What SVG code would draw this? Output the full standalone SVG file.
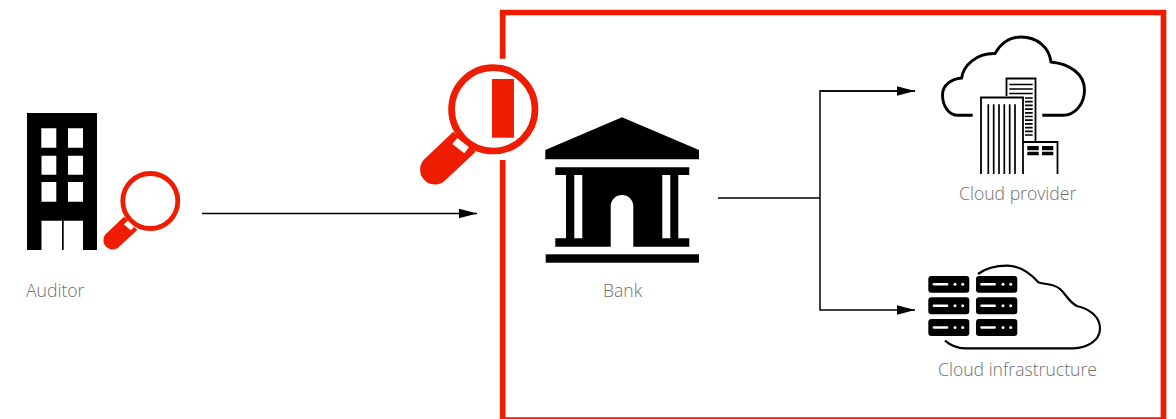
<svg xmlns="http://www.w3.org/2000/svg" width="1176" height="419" viewBox="0 0 1176 419">
<style>
.lbl{font-family:"Open Sans","Noto Sans",sans-serif;font-size:17.6px;font-weight:300;fill:#6e6e6e;opacity:.99}
.red{fill:#ee1c00}
.conn{fill:none;stroke:#000;stroke-width:1.5}
.thin{fill:none;stroke:#000;stroke-width:1.7}
.cloud{fill:none;stroke:#000;stroke-width:2.9}
</style>
<defs>
<marker id="arrow" markerUnits="userSpaceOnUse" markerWidth="20" markerHeight="10" refX="18" refY="5" orient="auto"><path d="M0 0.200L18 5L0 9.800Z" fill="#000"/></marker>
</defs>
<g id="frame"><path d="M502.700 58.700V12.500H1163.500V420H502.700V160" fill="none" stroke="#ee1c00" stroke-width="5.700"/></g>
<g id="connectors">
<path class="conn" d="M202 213.500H477" marker-end="url(#arrow)"/>
<path class="conn" d="M718 198H820"/>
<path class="conn" d="M915 91H820V310H915" marker-end="url(#arrow)"/>
<path class="conn" d="M820 91H915" marker-end="url(#arrow)"/>
</g>
<g id="auditor">
<path fill-rule="evenodd" d="M27 113H97V250H83V220.700H63.700V250H62V220.700H41.500V250H27ZM41.300 128.300V147.700H56.300V128.300ZM68 128.300V147.700H83V128.300ZM41.500 155.700V174.700H56.300V155.700ZM68 155.700V174.700H83V155.700ZM41.500 182V201.700H56.300V182ZM68 182V201.700H83V182Z"/>
<g id="auditor-lens">
<circle cx="150.300" cy="201" r="27.500" fill="#fff" stroke="#ee1c00" stroke-width="4.800"/>
<path class="red" d="M124 216.700L137.300 230L118 247.800A9.300 9.300 0 0 1 105.300 234.500Z"/>
<path fill="#fff" d="M128 220.700L134.300 226.700L130.700 230.300L123.700 224.300Z"/>
</g>
<text class="lbl" x="26" y="296.700">Auditor</text>
</g>
<g id="bank-lens">
<circle cx="493.300" cy="109.300" r="41.700" fill="#fff" stroke="#ee1c00" stroke-width="6.700"/>
<rect class="red" x="492" y="79" width="22" height="58.700"/>
<path class="red" d="M453.300 131.700L475.700 151.700L445 180.500A14.700 14.700 0 0 1 424.800 158.800Z"/>
<path fill="#fff" d="M457.300 138L469 147.300L464.300 153.300L452.300 144Z"/>
</g>
<g id="bank">
<path d="M545.300 150L622 117.300L699 150V159.300H545.300Z"/>
<path fill-rule="evenodd" d="M555.300 167.300H689.300V175H678.300V238.300H689.300V246.700H633.300V206.300A11.300 11.300 0 0 0 610.700 206.300V246.700H555.300V238.300H566V175H555.300ZM574.300 175V238.300H582.300V175ZM662.300 175V238.300H670.300V175Z"/>
<rect x="545.700" y="254.300" width="153.300" height="8.400"/>
<text class="lbl" x="603" y="296.700">Bank</text>
</g>
<g id="cloud-provider">
<path class="cloud" d="M972.700 115.300H958C949 115.300 942.500 106 942.500 95C942.500 85 951 79 961.700 78C963 66 976 53 995 53.500C1001 43 1010 37 1021 37C1037 37 1049 47 1051 62C1070 64 1084.500 74 1084.500 90C1084.500 104 1075 115.300 1063 115.300H1042.300"/>
<path fill="#fff" stroke="#000" stroke-width="1.800" d="M1006.500 96V78.500H1035.500V142"/>
<path fill="#fff" stroke="#000" stroke-width="1.800" d="M981 174V97.500H1023V174"/>
<path fill="none" stroke="#000" stroke-width="1.800" d="M1023 142H1057.500V174"/>
<path class="thin" stroke-width="1.500" d="M988.300 104.300V174M993.700 104.300V174M999 104.300V174M1004.300 104.300V174M1009.700 104.300V174M1015 104.300V174"/>
<path class="thin" d="M1009.300 84.500H1032.700M1009.300 89H1032.700M1009.300 93.500H1032.700M1025 98H1032.700M1025 101.700H1032.700M1025 105.400H1032.700M1025 109.100H1032.700M1025 112.800H1032.700M1025 116.500H1032.700M1025 120.200H1032.700M1025 123.900H1032.700M1025 127.600H1032.700M1025 131.300H1032.700M1025 135H1032.700"/>
<path d="M1027.300 146H1038.700V150.300H1027.300ZM1042 146H1053.300V150.300H1042ZM1027.300 151.700H1038.700V155.300H1027.300ZM1042 151.700H1053.300V155.300H1042Z"/>
<text class="lbl" x="959" y="199.700">Cloud provider</text>
</g>
<g id="cloud-infrastructure">
<path fill="none" stroke="#000" stroke-width="2.200" d="M978 274C986 268 996 265.700 1007 265.700C1020 265.700 1030 273 1038.300 282.300C1046 285 1053 283 1060 289C1066 294 1068 301 1076.700 306C1090 309 1100 317 1100 328.500C1100 340 1088 348.300 1073 348.300H965C956 348.300 950 345 945 340.700"/>
<g fill="#000">
<rect x="928.300" y="276" width="41" height="16.700" rx="3"/><rect x="976" y="276" width="41.300" height="16.700" rx="3"/>
<rect x="928.300" y="297.300" width="41" height="17" rx="3"/><rect x="976" y="297.300" width="41.300" height="17" rx="3"/>
<rect x="928.300" y="319" width="41" height="17" rx="3"/><rect x="976" y="319" width="41.300" height="17" rx="3"/>
</g>
<g fill="#fff">
<rect x="932.700" y="283" width="15.600" height="2.400" rx="1.200"/><rect x="980.300" y="283" width="15.600" height="2.400" rx="1.200"/>
<rect x="932.700" y="304.600" width="15.600" height="2.400" rx="1.200"/><rect x="980.300" y="304.600" width="15.600" height="2.400" rx="1.200"/>
<rect x="932.700" y="326.300" width="15.600" height="2.400" rx="1.200"/><rect x="980.300" y="326.300" width="15.600" height="2.400" rx="1.200"/>
<circle cx="955" cy="284.200" r="1.500"/><circle cx="962.700" cy="284.200" r="1.500"/><circle cx="1003" cy="284.200" r="1.500"/><circle cx="1010.700" cy="284.200" r="1.500"/>
<circle cx="955" cy="305.800" r="1.500"/><circle cx="962.700" cy="305.800" r="1.500"/><circle cx="1003" cy="305.800" r="1.500"/><circle cx="1010.700" cy="305.800" r="1.500"/>
<circle cx="955" cy="327.500" r="1.500"/><circle cx="962.700" cy="327.500" r="1.500"/><circle cx="1003" cy="327.500" r="1.500"/><circle cx="1010.700" cy="327.500" r="1.500"/>
</g>
<text class="lbl" x="938" y="375.700">Cloud infrastructure</text>
</g>
</svg>
